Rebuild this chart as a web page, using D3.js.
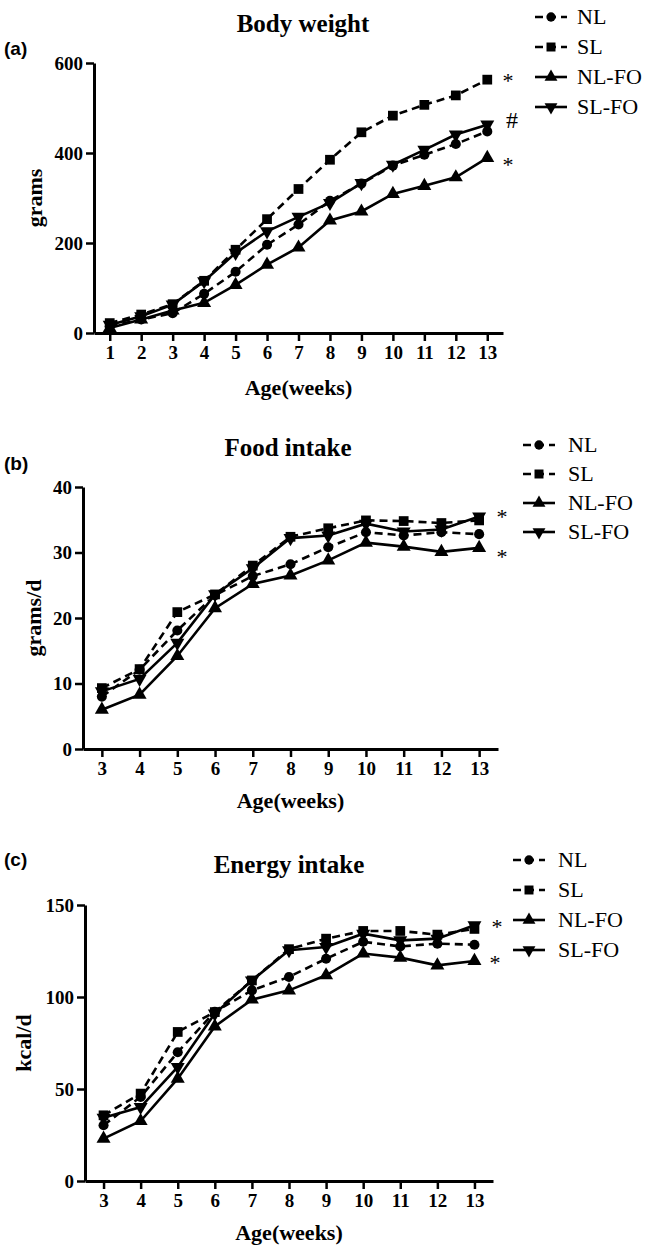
<!DOCTYPE html>
<html><head><meta charset="utf-8">
<script src="https://cdn.jsdelivr.net/npm/d3@7"></script>
<style>body{margin:0;background:#fff}svg{display:block}
.serif{font-family:"Liberation Serif","Times New Roman",Times,serif}
.sans{font-family:"Liberation Sans",Arial,Helvetica,sans-serif}
</style>
</head><body>
<svg id="c" width="646" height="1245"></svg>
<script>
const seriesNames = ["NL","SL","NL-FO","SL-FO"];
const weeksA = [1,2,3,4,5,6,7,8,9,10,11,12,13];
const weeksBC = [3,4,5,6,7,8,9,10,11,12,13];

const bwNL   = [15,30,44,87,136,196,241,294,332,372,396,420,448];
const bwSL   = [22,41,64,116,185,253,320,385,446,483,507,528,563];
const bwNLFO = [11,30,50,67,107,152,190,250,270,309,327,346,389];
const bwSLFO = [18,37,63,115,178,226,258,289,333,374,407,441,463];

const fiNL   = [8.0,12.1,18.1,23.5,26.4,28.2,30.8,33.1,32.6,33.1,32.8];
const fiSL   = [9.3,12.2,20.9,23.6,28.0,32.4,33.7,34.9,34.8,34.5,34.9];
const fiNLFO = [6.0,8.3,14.2,21.5,25.2,26.5,28.8,31.5,30.9,30.1,30.7];
const fiSLFO = [8.8,10.7,16.2,23.6,27.6,32.2,32.6,34.4,33.2,33.5,35.5];

const eiNL   = [30.3,45.7,70,92,103.6,110.9,120.8,130,127.5,129,128.4];
const eiSL   = [35.7,47.5,81,91.8,109,126,131.7,135.9,135.9,133.9,137];
const eiNLFO = [23,32.6,55.6,84,98.6,103.6,111.8,123.6,121.4,117.2,119.6];
const eiSLFO = [34.4,40.2,62,91,109,125.4,127.2,134.4,130.8,131.7,139];

const yTicksA = [0,200,400,600];
const yTicksB = [0,10,20,30,40];
const yTicksC = [0,50,100,150];

const svg = d3.select("#c");

const styles = {
  "NL":    {dash:"8,5", sym:d3.symbolCircle, size:80, rot:0},
  "SL":    {dash:"8,5", sym:d3.symbolSquare, size:95, rot:0},
  "NL-FO": {dash:null,  sym:d3.symbolTriangle, size:85, rot:0},
  "SL-FO": {dash:null,  sym:d3.symbolTriangle, size:85, rot:180}
};

function panel(cfg){
  const g = svg.append("g");
  const x = d3.scaleLinear().domain(cfg.xDom).range(cfg.xRange);
  const y = d3.scaleLinear().domain(cfg.yDom).range(cfg.yRange);
  const xa = g.append("g").attr("transform",`translate(0,${cfg.yRange[0]})`)
    .call(d3.axisBottom(x).tickValues(cfg.weeks).tickFormat(d3.format("d")).tickSize(8).tickSizeOuter(0).tickPadding(5));
  const ya = g.append("g").attr("transform",`translate(${cfg.xRange[0]},0)`)
    .call(d3.axisLeft(y).tickValues(cfg.yTicks).tickSize(8).tickSizeOuter(0).tickPadding(3));
  [xa,ya].forEach(a=>{
    a.attr("font-family",null);
    a.select(".domain").attr("stroke","#000").attr("stroke-width",3);
    a.selectAll(".tick line").attr("stroke","#000").attr("stroke-width",2.5);
    a.selectAll(".tick text").attr("fill","#000").attr("class","serif")
      .attr("font-weight","bold").attr("font-size",19);
  });
  const lineGen = d3.line().x(d=>x(d[0])).y(d=>y(d[1]));
  cfg.series.forEach((vals,i)=>{
    const name = seriesNames[i], st = styles[name];
    const pts = cfg.weeks.map((w,j)=>[w,vals[j]]);
    g.append("path").datum(pts).attr("d",lineGen).attr("fill","none")
      .attr("stroke","#000").attr("stroke-width",2.6)
      .attr("stroke-dasharray",st.dash);
    g.selectAll(null).data(pts).enter().append("path")
      .attr("d",d3.symbol().type(st.sym).size(st.size))
      .attr("transform",d=>`translate(${x(d[0])},${y(d[1])}) rotate(${st.rot})`)
      .attr("fill","#000");
  });
  g.append("text").attr("class","serif").attr("x",cfg.titleX).attr("y",cfg.titleY).attr("text-anchor","middle")
    .attr("font-weight","bold").attr("font-size",25).text(cfg.title);
  g.append("text").attr("class","serif").attr("x",(cfg.xRange[0]+cfg.xRange[1])/2).attr("y",cfg.xlabY).attr("text-anchor","middle")
    .attr("font-weight","bold").attr("font-size",22).text("Age(weeks)");
  g.append("text").attr("class","serif").attr("transform",`translate(${cfg.ylabX},${(cfg.yRange[0]+cfg.yRange[1])/2}) rotate(-90)`)
    .attr("text-anchor","middle").attr("font-weight","bold").attr("font-size",22).text(cfg.ylab);
  g.append("text").attr("class","sans").attr("x",4).attr("y",cfg.panelY)
    .attr("font-weight","bold").attr("font-size",19).text(cfg.panel);
  cfg.notes.forEach(n=>{
    g.append("text").attr("class","serif").attr("x",n.x).attr("y",n.y).attr("text-anchor","middle")
      .attr("font-size",n.t==="#"?24:22).text(n.t);
  });
  seriesNames.forEach((name,i)=>{
    const st = styles[name];
    const ly = cfg.legY + i*cfg.legGap;
    g.append("line").attr("x1",cfg.legX).attr("x2",cfg.legX+32).attr("y1",ly).attr("y2",ly)
      .attr("stroke","#000").attr("stroke-width",2.6).attr("stroke-dasharray",st.dash);
    g.append("path").attr("d",d3.symbol().type(st.sym).size(st.size*0.85)())
      .attr("transform",`translate(${cfg.legX+16},${ly}) rotate(${st.rot})`).attr("fill","#000");
    g.append("text").attr("class","serif").attr("x",cfg.legX+cfg.legTx).attr("y",ly+7)
      .attr("font-size",22).text(name);
  });
}

panel({xDom:[0.5,13.5], xRange:[94,503], yDom:[0,600], yRange:[333,63], weeks:weeksA, yTicks:yTicksA,
  series:[bwNL,bwSL,bwNLFO,bwSLFO], title:"Body weight", titleX:303, titleY:32, xlabY:395,
  ylab:"grams", ylabX:42, panel:"(a)", panelY:55,
  notes:[{x:508,y:88,t:"*"},{x:512,y:128,t:"#"},{x:508,y:172,t:"*"}],
  legX:535, legY:17, legGap:30, legTx:42});

panel({xDom:[2.5,13.5], xRange:[83,498], yDom:[0,40], yRange:[749,487], weeks:weeksBC, yTicks:yTicksB,
  series:[fiNL,fiSL,fiNLFO,fiSLFO], title:"Food intake", titleX:288, titleY:456, xlabY:808,
  ylab:"grams/d", ylabX:41, panel:"(b)", panelY:470,
  notes:[{x:502,y:524,t:"*"},{x:502,y:564,t:"*"}],
  legX:523, legY:445, legGap:29, legTx:45});

panel({xDom:[2.5,13.5], xRange:[85,493], yDom:[0,150], yRange:[1181,905], weeks:weeksBC, yTicks:yTicksC,
  series:[eiNL,eiSL,eiNLFO,eiSLFO], title:"Energy intake", titleX:289, titleY:873, xlabY:1240,
  ylab:"kcal/d", ylabX:31, panel:"(c)", panelY:866,
  notes:[{x:497,y:934,t:"*"},{x:495,y:970,t:"*"}],
  legX:513, legY:860, legGap:30, legTx:45});
</script>
</body></html>
